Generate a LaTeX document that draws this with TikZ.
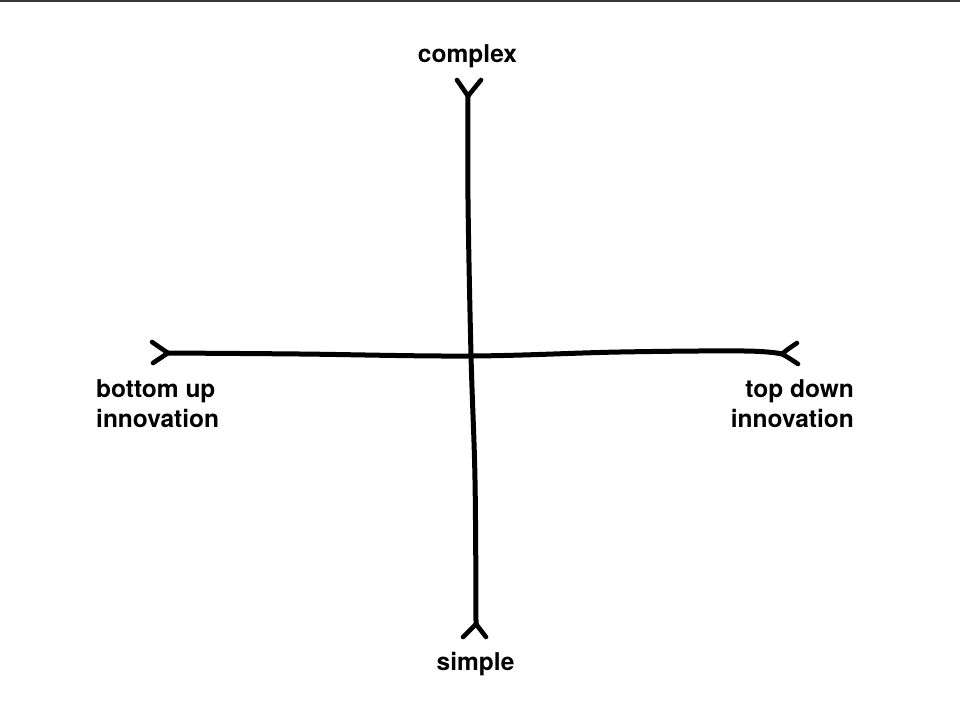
\documentclass[tikz,border=0pt]{standalone}
\usepackage{fontspec}
\setmainfont{TeX Gyre Heros}
\begin{document}
\begin{tikzpicture}[x=1pt, y=-1pt,
  axis/.style={line width=5pt, line cap=round, line join=round, black},
  fork/.style={line width=4.6pt, line cap=round, black},
  label/.style={inner sep=0pt, font=\fontsize{24.5}{30}\selectfont\bfseries}]
  \useasboundingbox (0,0) rectangle (960,720);
  \fill[white] (0,0) rectangle (960,720);
  % thin rule along the top edge
  \draw[line width=2pt, black!78] (0,1) -- (960,1);

  % axis end points and the points the hand-drawn strokes pass through
  \coordinate (top) at (468,96);
  \coordinate (v1) at (468,200);
  \coordinate (v2) at (471,355);
  \coordinate (v3) at (475,480);
  \coordinate (bot) at (476,624);
  \coordinate (left) at (168,353);
  \coordinate (h1) at (300,354);
  \coordinate (h2) at (470,356);
  \coordinate (h3) at (620,352);
  \coordinate (h4) at (745,351);
  \coordinate (right) at (782,354);

  % vertical axis: complex (top) to simple (bottom)
  \draw[axis] plot[smooth, tension=0.6] coordinates {(top) (v1) (v2) (v3) (bot)};
  % horizontal axis: bottom up (left) to top down (right)
  \draw[axis] plot[smooth, tension=0.6] coordinates {(left) (h1) (h2) (h3) (h4) (right)};

  % forked ends
  \draw[fork] (top) -- ++(-11,-16) (top) -- ++(13,-16);
  \draw[fork] (bot) -- ++(-13,13) (bot) -- ++(10,13);
  \draw[fork] (left) .. controls (162,349) .. (152,342)
              (left) .. controls (162,357) .. (153,363);
  \draw[fork] (right) .. controls (788,349) .. (797,343)
              (right) .. controls (789,358) .. (798,364);

  % labels
  \node[label, anchor=base] (complex) at (467.5,62) {complex};
  \node[label, anchor=base] (simple) at (475.5,670) {simple};
  \node[label, anchor=base west, align=left] (bottomup) at (96,427) {bottom up\\innovation};
  \node[label, anchor=base east, align=right] (topdown) at (854,427) {top down\\innovation};
\end{tikzpicture}
\end{document}
